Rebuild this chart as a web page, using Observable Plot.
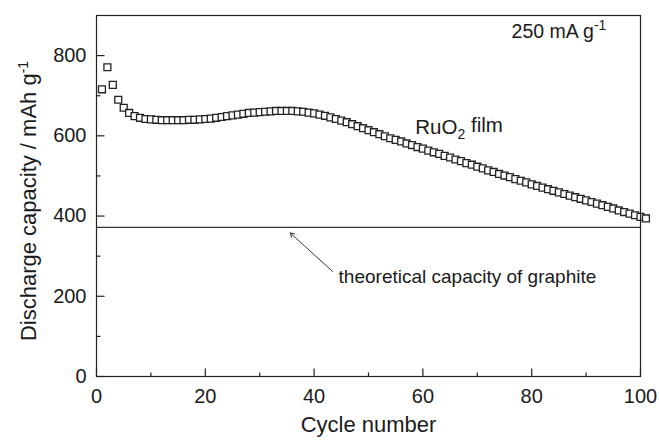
<!DOCTYPE html>
<html>
<head>
<meta charset="utf-8">
<script src="https://cdn.jsdelivr.net/npm/d3@7"></script>
<script src="https://cdn.jsdelivr.net/npm/@observablehq/plot@0.6"></script>
<style>
  body { margin: 0; background: #fff; }
  #chart { width: 659px; height: 440px; }
  svg text { font-family: "Liberation Sans", Arial, sans-serif; }
</style>
</head>
<body>
<div id="chart"></div>
<script>
const cycles = d3.range(1, 102);
const capacity = [
  716, 771, 727, 690, 670, 657, 649, 645, 642, 641,
  640, 639, 639, 639, 639, 639, 640, 640, 641, 642,
  643, 645, 647, 649, 651, 653, 655, 657, 658, 659,
  660, 661, 662, 662, 662, 662, 661, 660, 658, 656,
  653, 650, 646, 642, 638, 634, 629, 624, 619, 614,
  609, 604, 599, 594, 590, 586, 581, 577, 572, 568,
  563, 559, 555, 550, 546, 541, 537, 532, 528, 523,
  519, 514, 510, 505, 501, 497, 492, 488, 484, 479,
  475, 471, 467, 463, 459, 455, 451, 447, 443, 439,
  435, 431, 427, 423, 419, 414, 410, 406, 402, 398,
  394
];
const graphiteCapacity = 372;
const xMajor = [0, 20, 40, 60, 80, 100];
const xMinor = [10, 30, 50, 70, 90];
const yMajor = [0, 200, 400, 600, 800];
const yMinor = [100, 300, 500, 700];
const xTitle = "Cycle number";
const yTitle = "Discharge capacity / mAh g";
const rateLabel = "250 mA g";
const filmLabel = "RuO";
const graphiteLabel = "theoretical capacity of graphite";

const data = cycles.map((c, i) => ({cycle: c, cap: capacity[i]}));
const FONT = 20;
const TITLE = 22;
const NOTE = 19.5;
const INK = "#1a1a1a";

// inward tick glyphs (pixel lengths)
const tick = (dx, dy) => ({draw(ctx) { ctx.moveTo(0, 0); ctx.lineTo(dx, dy); }});
const upMajor = tick(0, -8), upMinor = tick(0, -4);
const rightMajor = tick(8, 0), rightMinor = tick(4, 0);

const plot = Plot.plot({
  width: 659,
  height: 440,
  marginLeft: 96,
  marginRight: 19,
  marginTop: 15,
  marginBottom: 64,
  style: {fontFamily: "Liberation Sans, Arial, sans-serif", background: "#fff", color: INK},
  x: {domain: [0, 100]},
  y: {domain: [0, 900]},
  marks: [
    Plot.ruleY([graphiteCapacity], {stroke: "#333", strokeWidth: 1.2}),
    Plot.dot(data, {x: "cycle", y: "cap", symbol: "square", r: 3.9, stroke: "#222", strokeWidth: 1.3, fill: "white"}),
    Plot.frame({stroke: "#222", strokeWidth: 1.2}),
    Plot.dot(xMajor, {x: d => d, y: 0, symbol: upMajor, stroke: "#222", fill: "none", strokeWidth: 1.2}),
    Plot.dot(xMinor, {x: d => d, y: 0, symbol: upMinor, stroke: "#222", fill: "none", strokeWidth: 1.2}),
    Plot.dot(yMajor, {x: 0, y: d => d, symbol: rightMajor, stroke: "#222", fill: "none", strokeWidth: 1.2}),
    Plot.dot(yMinor, {x: 0, y: d => d, symbol: rightMinor, stroke: "#222", fill: "none", strokeWidth: 1.2}),
    Plot.axisX({ticks: xMajor, tickSize: 0, tickPadding: 12, fontSize: FONT, label: null, fill: INK}),
    Plot.axisY({ticks: yMajor, tickSize: 0, tickPadding: 10, fontSize: FONT, label: null, fill: INK}),
    Plot.text([xTitle], {frameAnchor: "bottom", dy: 48, lineAnchor: "middle", textAnchor: "middle", text: d => d, fontSize: TITLE, fill: INK}),
    Plot.text([yTitle], {frameAnchor: "left", dx: -68, dy: 5, rotate: -90, textAnchor: "middle", lineAnchor: "middle", text: d => d, fontSize: TITLE, fill: INK, className: "ytitle"}),
    Plot.text([rateLabel], {x: 76.3, y: 860, text: d => d, textAnchor: "start", fontSize: NOTE, fill: INK, className: "rate"}),
    Plot.text([filmLabel], {x: 58.6, y: 620, text: d => d, textAnchor: "start", fontSize: 20.5, fill: INK, className: "film"}),
    Plot.text([graphiteLabel], {x: 44.5, y: 249, text: d => d, textAnchor: "start", fontSize: 19, fill: INK}),
    Plot.arrow([0], {x1: 43.4, y1: 262, x2: 35.6, y2: 358, stroke: "#333", strokeWidth: 1, headLength: 7, bend: 0})
  ]
});

document.getElementById("chart").appendChild(plot);

// superscripts / subscripts as real tspans
const svg = d3.select(plot);
svg.selectAll(".rate text, .ytitle text").each(function() {
  d3.select(this).append("tspan").attr("dy", "-0.55em").attr("font-size", 14).text("-1");
});
svg.selectAll(".film text").each(function() {
  const t = d3.select(this);
  t.append("tspan").attr("dy", "0.35em").attr("font-size", 14).text("2");
  t.append("tspan").attr("dy", "-0.35em").text(" film");
});
</script>
</body>
</html>
